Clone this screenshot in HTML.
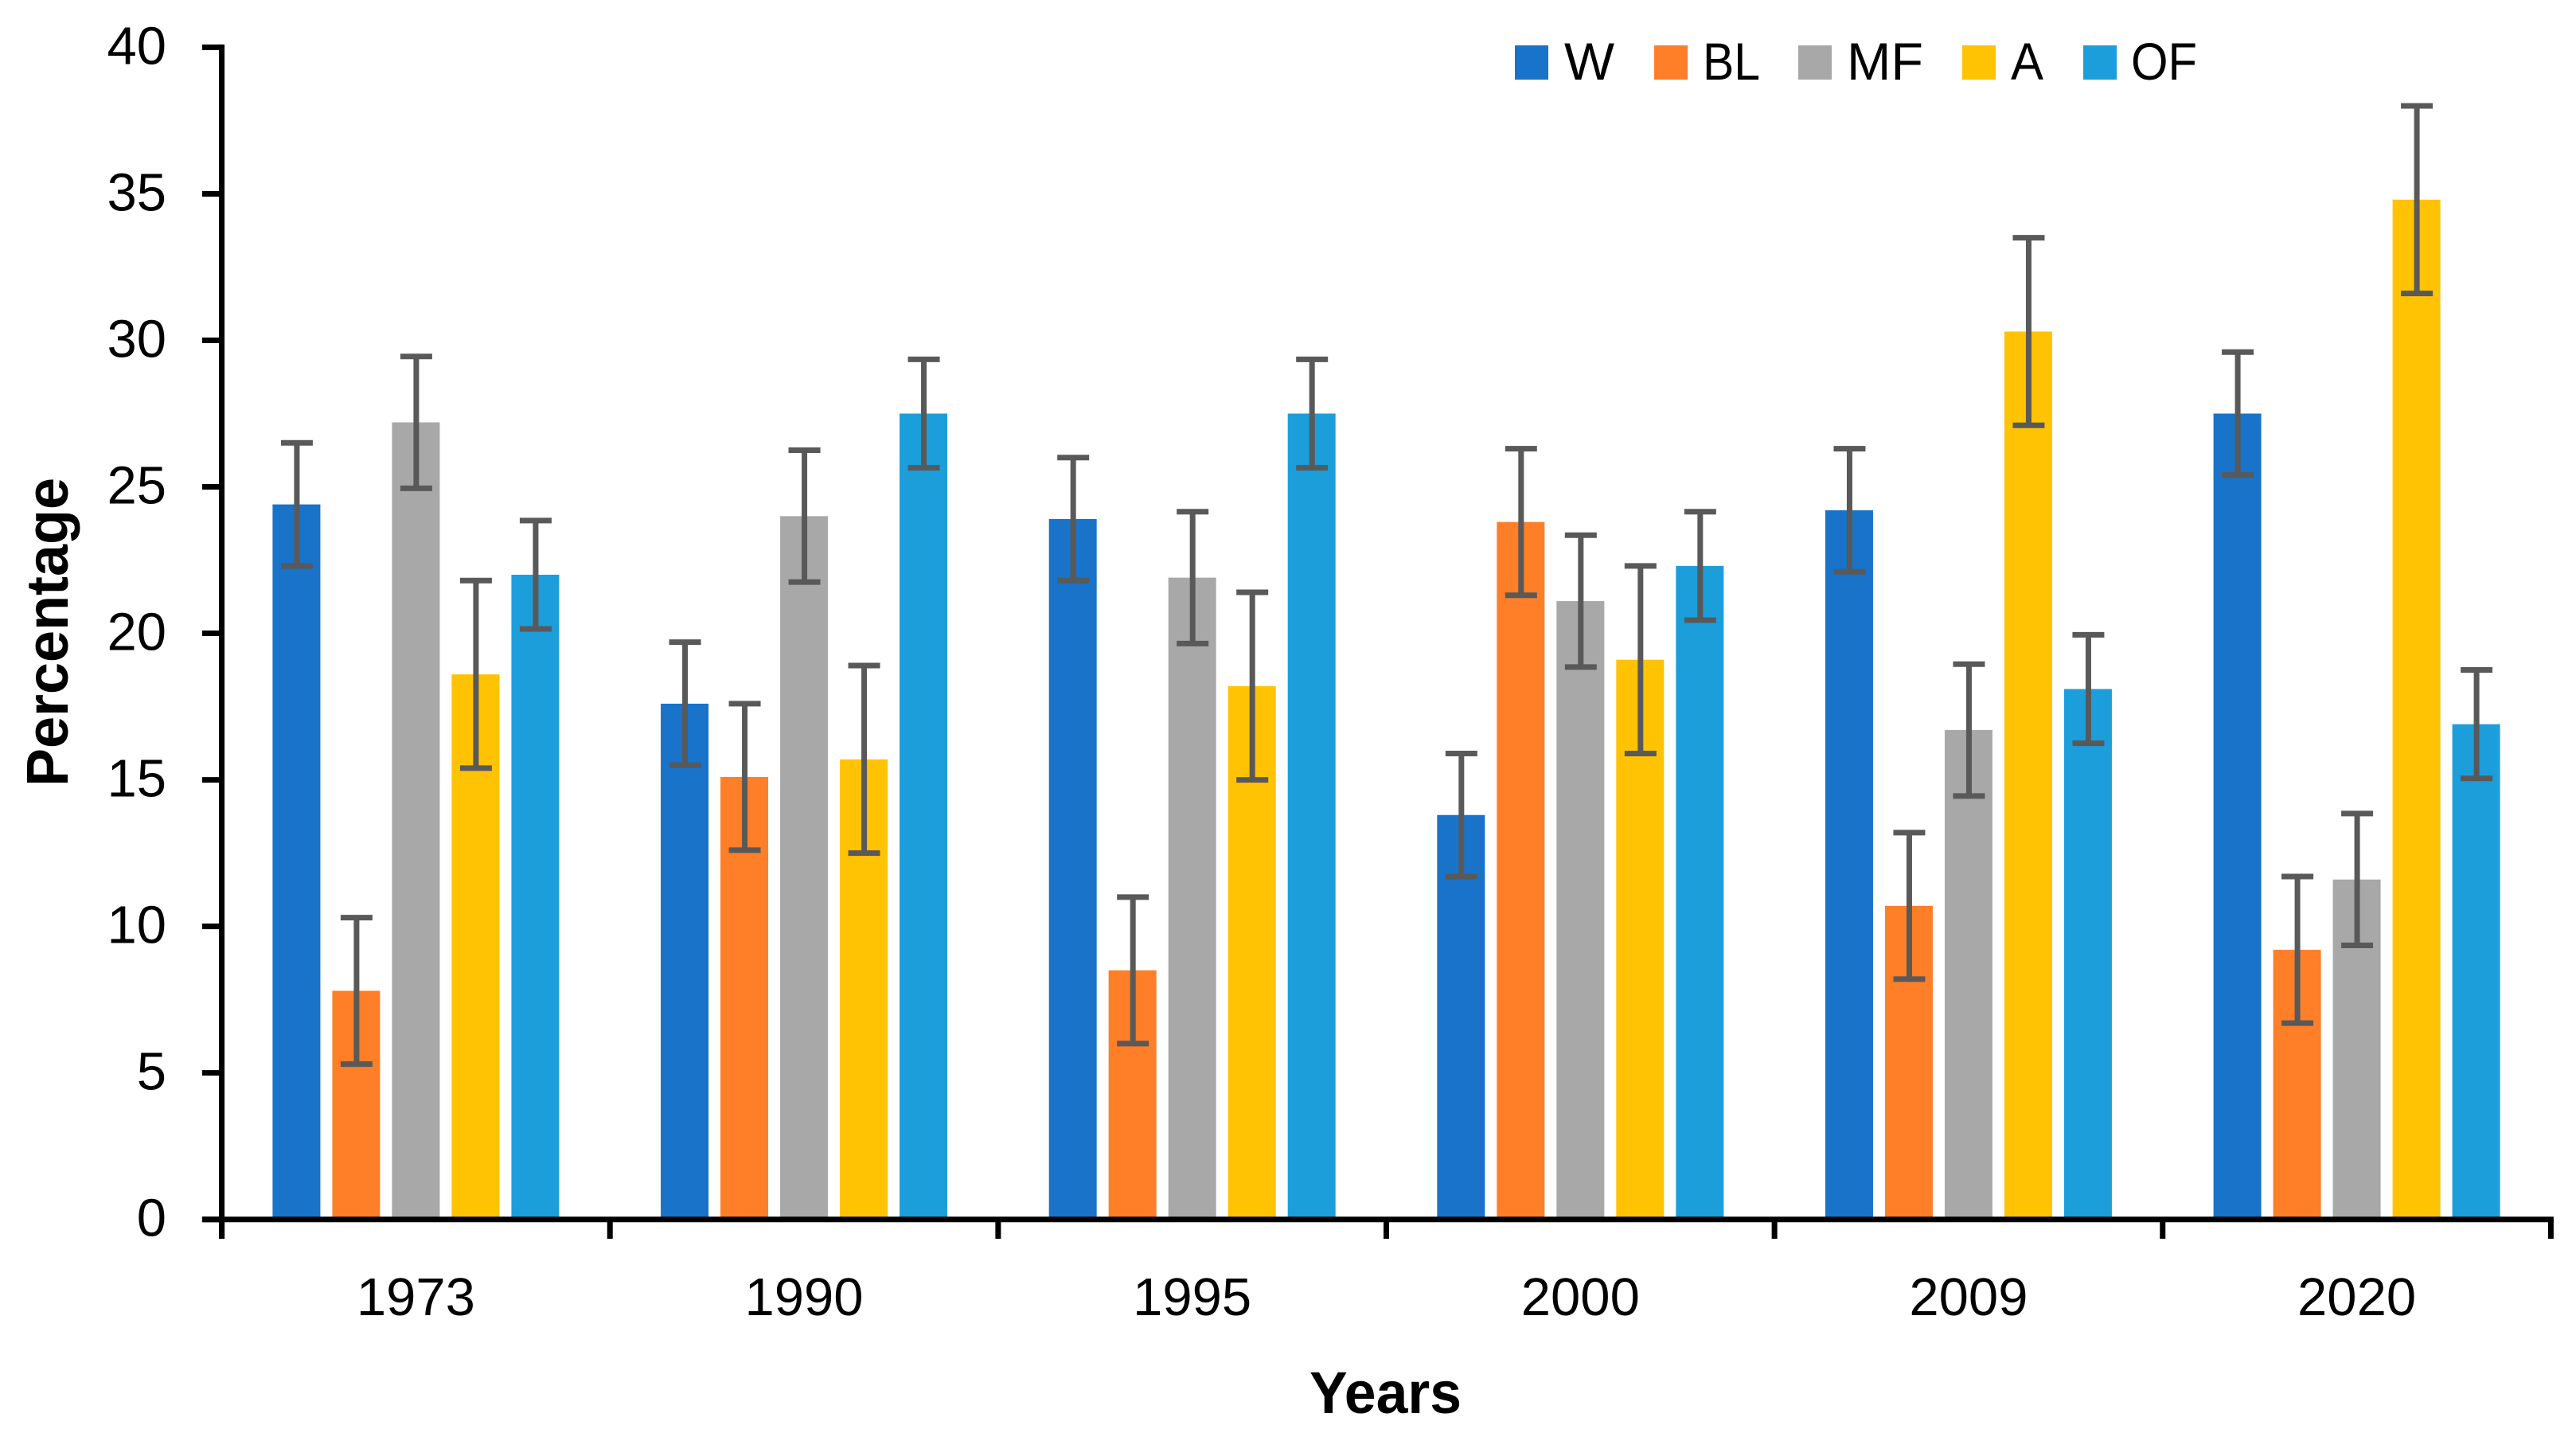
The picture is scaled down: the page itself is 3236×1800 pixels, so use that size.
<!DOCTYPE html>
<html lang="en">
<head>
<meta charset="utf-8">
<title>Percentage by year</title>
<style>
html,body{margin:0;padding:0;background:#fff;}
svg{display:block;}
text{font-family:"Liberation Sans",sans-serif;fill:#000;}
</style>
</head>
<body>
<svg id="chart" xmlns="http://www.w3.org/2000/svg" width="3236" height="1800" viewBox="0 0 3236 1800">
  <rect x="0" y="0" width="3236" height="1800" fill="#ffffff"/>
  <g id="bars"></g>
  <g id="errors"></g>
  <g id="axes"></g>
  <g>
    <g>
      <rect x="1903" y="57" width="42" height="43" fill="#1873C9"/>
      <text x="1965" y="100" font-size="66" textLength="63" lengthAdjust="spacingAndGlyphs">W</text>
    </g>
    <g>
      <rect x="2078" y="57" width="42" height="43" fill="#FF7E28"/>
      <text x="2139" y="100" font-size="66" textLength="72" lengthAdjust="spacingAndGlyphs">BL</text>
    </g>
    <g>
      <rect x="2259" y="57" width="42" height="43" fill="#A8A8A8"/>
      <text x="2320" y="100" font-size="66" textLength="96" lengthAdjust="spacingAndGlyphs">MF</text>
    </g>
    <g>
      <rect x="2465" y="57" width="42" height="43" fill="#FFC303"/>
      <text x="2526" y="100" font-size="66" textLength="41" lengthAdjust="spacingAndGlyphs">A</text>
    </g>
    <g>
      <rect x="2617" y="57" width="42" height="43" fill="#1C9EDA"/>
      <text x="2677" y="100" font-size="66" textLength="83" lengthAdjust="spacingAndGlyphs">OF</text>
    </g>
  </g>
  <text x="1645" y="1775" font-size="74" font-weight="700" textLength="191" lengthAdjust="spacingAndGlyphs">Years</text>
  <text transform="translate(85 988) rotate(-90)" x="0" y="0" font-size="74" font-weight="700" textLength="388" lengthAdjust="spacingAndGlyphs">Percentage</text>
</svg>
<script>
var categories = ['1973', '1990', '1995', '2000', '2009', '2020'];
var seriesNames = ['W', 'BL', 'MF', 'A', 'OF'];
var valuesW = [24.4, 17.6, 23.9, 13.8, 24.2, 27.5];
var valuesBL = [7.8, 15.1, 8.5, 23.8, 10.7, 9.2];
var valuesMF = [27.2, 24.0, 21.9, 21.1, 16.7, 11.6];
var valuesA = [18.6, 15.7, 18.2, 19.1, 30.3, 34.8];
var valuesOF = [22.0, 27.5, 27.5, 22.3, 18.1, 16.9];
var errorsW = [2.1, 2.1, 2.1, 2.1, 2.1, 2.1];
var errorsBL = [2.5, 2.5, 2.5, 2.5, 2.5, 2.5];
var errorsMF = [2.25, 2.25, 2.25, 2.25, 2.25, 2.25];
var errorsA = [3.2, 3.2, 3.2, 3.2, 3.2, 3.2];
var errorsOF = [1.85, 1.85, 1.85, 1.85, 1.85, 1.85];
var yTicks = [0, 5, 10, 15, 20, 25, 30, 35, 40];

var seriesValues = [valuesW, valuesBL, valuesMF, valuesA, valuesOF];
var seriesErrors = [errorsW, errorsBL, errorsMF, errorsA, errorsOF];
var seriesColors = ['#1873C9', '#FF7E28', '#A8A8A8', '#FFC303', '#1C9EDA'];

var NS = 'http://www.w3.org/2000/svg';
var plotLeft = 278.6, plotRight = 3204.4, plotBottom = 1531.7, plotTop = 59.4;
var yMax = 40;
var barWidth = 60, barStep = 75, capWidth = 40, stroke = 7;
var bandWidth = (plotRight - plotLeft) / categories.length;

function yScale(v) { return plotBottom - (v / yMax) * (plotBottom - plotTop); }
function bandStart(i) { return plotLeft + i * bandWidth; }
function bandCenter(i) { return bandStart(i) + bandWidth / 2; }
function barLeft(i, s) {
  var groupWidth = (seriesNames.length - 1) * barStep + barWidth;
  return bandCenter(i) - groupWidth / 2 + s * barStep;
}
function make(tag, attrs, parent) {
  var el = document.createElementNS(NS, tag);
  for (var k in attrs) el.setAttribute(k, attrs[k]);
  parent.appendChild(el);
  return el;
}
function kebab(s) { return String(s).toLowerCase(); }

var barsLayer = document.getElementById('bars');
var errorsLayer = document.getElementById('errors');
var axesLayer = document.getElementById('axes');

seriesNames.forEach(function (name, s) {
  categories.forEach(function (cat, i) {
    var v = seriesValues[s][i];
    var e = seriesErrors[s][i];
    var x = barLeft(i, s);
    var top = yScale(v);
    var bar = make('rect', { x: x, y: top, width: barWidth, height: plotBottom - top, fill: seriesColors[s] }, barsLayer);
    
    

    var cx = x + barWidth / 2 + 0.5;
    var hi = yScale(v + e);
    var lo = yScale(v - e);
    var err = make('g', { stroke: '#595959', 'stroke-width': stroke, fill: 'none' }, errorsLayer);
    
    
    make('line', { x1: cx, x2: cx, y1: hi, y2: lo }, err);
    make('line', { x1: cx - capWidth / 2, x2: cx + capWidth / 2, y1: hi, y2: hi }, err);
    make('line', { x1: cx - capWidth / 2, x2: cx + capWidth / 2, y1: lo, y2: lo }, err);
  });
});

var yLine = make('line', { x1: plotLeft, x2: plotLeft, y1: plotTop - 3.5, y2: 1556, stroke: '#000', 'stroke-width': stroke }, axesLayer);



var xLine = make('line', { x1: 254, x2: plotRight + 3.5, y1: plotBottom, y2: plotBottom, stroke: '#000', 'stroke-width': stroke }, axesLayer);



yTicks.forEach(function (t) {
  var y = yScale(t);
  var tick = make('line', { x1: 254, x2: plotLeft, y1: y, y2: y, stroke: '#000', 'stroke-width': stroke }, axesLayer);
  
  
  var label = make('text', { x: 209, y: y + 21, 'font-size': 67, 'text-anchor': 'end' }, axesLayer);
  
  
  label.textContent = String(t);
});

for (var b = 0; b <= categories.length; b++) {
  var tx = bandStart(b);
  var xt = make('line', { x1: tx, x2: tx, y1: plotBottom, y2: 1556, stroke: '#000', 'stroke-width': stroke }, axesLayer);
  
  
}

categories.forEach(function (cat, i) {
  var lab = make('text', { x: bandCenter(i), y: 1652, 'font-size': 67, 'text-anchor': 'middle' }, axesLayer);
  
  
  lab.textContent = cat;
});
</script>
</body>
</html>
